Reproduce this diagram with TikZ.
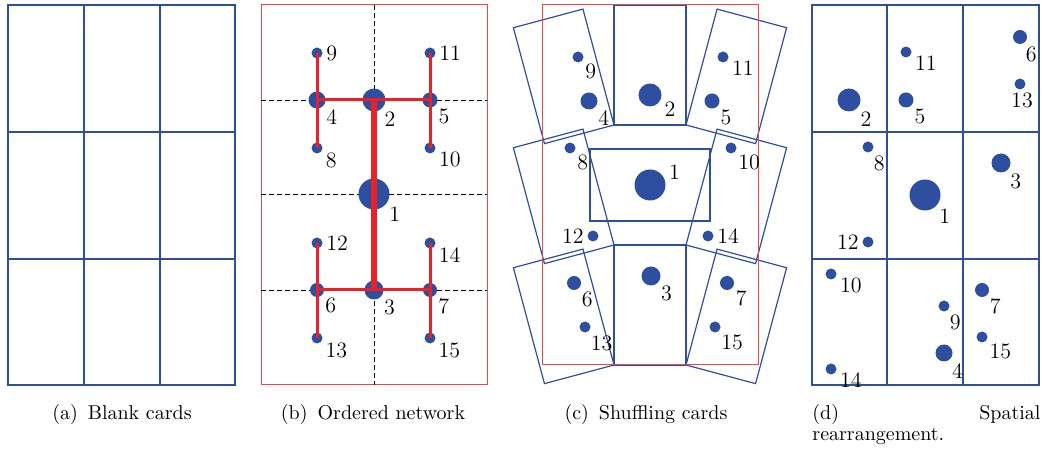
\documentclass[tikz,border=0pt]{standalone}
\usepackage{tikz}
\usetikzlibrary{calc}
\definecolor{cardblue}{RGB}{46,78,160}
\definecolor{netred}{RGB}{236,32,39}
\definecolor{boxred}{RGB}{240,70,70}
\tikzset{
	card/.style={draw=cardblue, line width=0.8pt},
	thincard/.style={draw=cardblue, line width=0.6pt},
	frame/.style={draw=boxred, line width=0.5pt},
	guide/.style={draw=black, line width=0.4pt, dash pattern=on 2.5pt off 1.5pt},
	vertex/.style={circle, fill=cardblue, inner sep=0pt, minimum size=#1},
	vertex/.default=5.5pt,
	lab/.style={inner sep=1pt, text=black, font=\fontsize{11}{13}\selectfont},
	trunk/.style={draw=netred, line width=3pt},
	branch/.style={draw=netred, line width=1.5pt},
}

\begin{document}
\begin{tikzpicture}[x=5pt, y=5pt, label distance=0.5pt]
		%%%%% START %%%%%
		\useasboundingbox (0, 0) rectangle (104.2, 44.9);
		
		% (a) blank cards
		\draw[card] (0.8, 6.4) rectangle (23.5, 44.4);
		\draw[card] (8.4, 6.4) -- (8.4, 44.4);
		\draw[card] (16.0, 6.4) -- (16.0, 44.4);
		\draw[card] (0.8, 31.7) -- (23.5, 31.7);
		\draw[card] (0.8, 19.0) -- (23.5, 19.0);
		
		% (b) ordered network
		\draw[frame] (26.1, 6.4) rectangle (48.7, 44.4);
		\draw[guide] (37.4, 44.4) -- (37.4, 6.4);
		\draw[guide] (26.1, 34.9) -- (48.7, 34.9);
		\draw[guide] (26.1, 25.5) -- (48.7, 25.5);
		\draw[guide] (26.1, 15.9) -- (48.7, 15.9);
		
		\node[vertex=15.5pt, label={[lab]-40:1}] (b1) at (37.4, 25.5) {};
		\node[vertex=11.5pt, label={[lab]-50:2}] (b2) at (37.4, 34.9) {};
		\node[vertex=9.5pt, label={[lab]-45:3}] (b3) at (37.4, 15.9) {};
		\node[vertex=8.5pt, label={[lab]-45:4}] (b4) at (31.7, 34.9) {};
		\node[vertex=7.5pt, label={[lab]-45:5}] (b5) at (43.0, 34.9) {};
		\node[vertex=7pt, label={[lab]-45:6}] (b6) at (31.7, 15.9) {};
		\node[vertex=7pt, label={[lab]-45:7}] (b7) at (43.0, 15.9) {};
		\node[vertex, label={[lab]-20:8}] (b8) at (31.7, 30.1) {};
		\node[vertex, label={[lab]0:9}] (b9) at (31.7, 39.6) {};
		\node[vertex, label={[lab]-15:10}] (b10) at (43.0, 30.1) {};
		\node[vertex, label={[lab]0:11}] (b11) at (43.0, 39.6) {};
		\node[vertex, label={[lab]0:12}] (b12) at (31.7, 20.6) {};
		\node[vertex, label={[lab]-25:13}] (b13) at (31.7, 11.1) {};
		\node[vertex, label={[lab]-20:14}] (b14) at (43.0, 20.6) {};
		\node[vertex, label={[lab]-25:15}] (b15) at (43.0, 11.1) {};
		
		\draw[trunk] (b2.center) -- (b1.center) -- (b3.center);
		\draw[branch] (b4.center) -- (b2.center) -- (b5.center);
		\draw[branch] (b6.center) -- (b3.center) -- (b7.center);
		\draw[branch] (b9.center) -- (b4.center) -- (b8.center);
		\draw[branch] (b11.center) -- (b5.center) -- (b10.center);
		\draw[branch] (b12.center) -- (b6.center) -- (b13.center);
		\draw[branch] (b14.center) -- (b7.center) -- (b15.center);
		
		% (c) shuffling cards
		\draw[thincard, rotate around={15:(61.4, 32.4)}] (54.2, 32.4) rectangle (61.4, 44.4);
		\draw[thincard, rotate around={15:(61.4, 20.4)}] (54.2, 20.4) rectangle (61.4, 32.4);
		\draw[thincard, rotate around={15:(61.4, 8.4)}] (54.2, 8.4) rectangle (61.4, 20.4);
		\draw[thincard] (61.4, 32.4) rectangle (68.6, 44.4);
		\draw[thincard] (59.0, 22.8) rectangle (71.0, 30.0);
		\draw[thincard] (61.4, 8.4) rectangle (68.6, 20.4);
		\draw[thincard, rotate around={-15:(68.6, 32.4)}] (68.6, 32.4) rectangle (75.8, 44.4);
		\draw[thincard, rotate around={-15:(68.6, 20.4)}] (68.6, 20.4) rectangle (75.8, 32.4);
		\draw[thincard, rotate around={-15:(68.6, 8.4)}] (68.6, 8.4) rectangle (75.8, 20.4);
		\draw[frame] (54.2, 8.4) rectangle (75.8, 44.4);
		
		\node[vertex=15.5pt, label={[lab]10:1}] (c1) at (65.0, 26.4) {};
		\node[vertex=11.5pt, label={[lab]-20:2}] (c2) at (65.0, 35.4) {};
		\node[vertex=9.5pt, label={[lab]-45:3}] (c3) at (65.1, 17.3) {};
		\node[vertex=8.5pt, label={[lab]-45:4}] (c4) at (58.9, 34.8) {};
		\node[vertex=7.5pt, label={[lab]-45:5}] (c5) at (71.2, 34.8) {};
		\node[vertex=7pt, label={[lab]-50:6}] (c6) at (57.4, 16.6) {};
		\node[vertex=7pt, label={[lab]-40:7}] (c7) at (72.7, 16.6) {};
		\node[vertex, label={[lab]-45:8}] (c8) at (57.0, 30.1) {};
		\node[vertex, label={[lab]-45:9}] (c9) at (57.8, 39.2) {};
		\node[vertex, label={[lab]-45:10}] (c10) at (73.1, 30.1) {};
		\node[vertex, label={[lab]-10:11}] (c11) at (72.3, 39.2) {};
		\node[vertex, label={[lab]180:12}] (c12) at (59.3, 21.3) {};
		\node[vertex, label={[lab]-60:13}] (c13) at (58.5, 12.2) {};
		\node[vertex, label={[lab]0:14}] (c14) at (70.8, 21.3) {};
		\node[vertex, label={[lab]-55:15}] (c15) at (71.5, 12.2) {};
		
		% (d) spatial rearrangement
		\draw[card] (81.2, 6.4) rectangle (103.9, 44.4);
		\draw[card] (88.7, 6.4) -- (88.7, 44.4);
		\draw[card] (96.3, 6.4) -- (96.3, 44.4);
		\draw[card] (81.2, 31.7) -- (103.9, 31.7);
		\draw[card] (81.2, 19.0) -- (103.9, 19.0);
		
		\node[vertex=15.5pt, label={[lab]-45:1}] (d1) at (92.5, 25.4) {};
		\node[vertex=11.5pt, label={[lab]-45:2}] (d2) at (84.9, 34.9) {};
		\node[vertex=9.5pt, label={[lab]-50:3}] (d3) at (100.1, 28.6) {};
		\node[vertex=8.5pt, label={[lab]-55:4}] (d4) at (94.4, 9.6) {};
		\node[vertex=7.5pt, label={[lab]-45:5}] (d5) at (90.6, 34.9) {};
		\node[vertex=7pt, label={[lab]-65:6}] (d6) at (102.0, 41.2) {};
		\node[vertex=7pt, label={[lab]-50:7}] (d7) at (98.2, 15.9) {};
		\node[vertex, label={[lab]-60:8}] (d8) at (86.8, 30.2) {};
		\node[vertex, label={[lab]-60:9}] (d9) at (94.4, 14.3) {};
		\node[vertex, label={[lab]-15:10}] (d10) at (83.1, 17.5) {};
		\node[vertex, label={[lab]-15:11}] (d11) at (90.6, 39.7) {};
		\node[vertex, label={[lab]180:12}] (d12) at (86.8, 20.7) {};
		\node[vertex, label={[lab, anchor=north, xshift=1pt]-90:13}] (d13) at (102.0, 36.5) {};
		\node[vertex, label={[lab]-10:14}] (d14) at (83.1, 8.0) {};
		\node[vertex, label={[lab]-40:15}] (d15) at (98.2, 11.2) {};
		
		% captions
		\node[anchor=base] (capA) at (12.2, 3.0) {(a)\enspace Blank cards};
		\node[anchor=base] (capB) at (37.3, 3.0) {(b)\enspace Ordered network};
		\node[anchor=base] (capC) at (64.6, 3.0) {(c)\enspace Shuffling cards};
		\node[anchor=north west, inner sep=0pt, text width=114pt, align=justify,
			font=\fontsize{10}{10.5}\selectfont] (capD) at (81.2, 4.5)
			{(d)\hfill Spatial\\rearrangement.};
		%%%%% END %%%%%
	\end{tikzpicture}
\end{document}
